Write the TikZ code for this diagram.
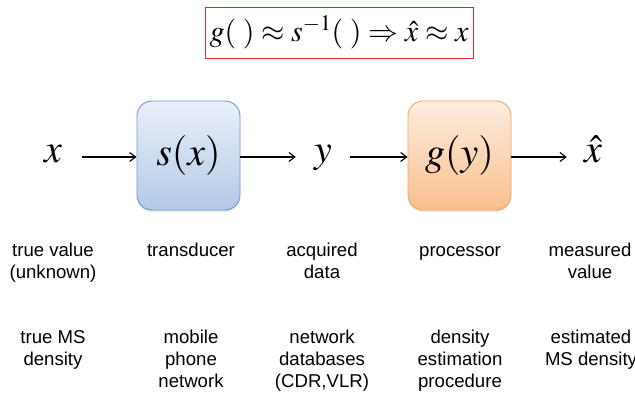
\documentclass[tikz,border=0pt]{standalone}
\usepackage{mathptmx}
\usepackage{fontspec}
\setmainfont{Liberation Sans}
\usetikzlibrary{arrows.meta,shadows}

\definecolor{blueTop}{HTML}{EAF0F9}
\definecolor{blueBot}{HTML}{B3C9E7}
\definecolor{blueEdge}{HTML}{7096C6}
\definecolor{orgTop}{HTML}{FDEDE0}
\definecolor{orgBot}{HTML}{F9BF8C}
\definecolor{orgEdge}{HTML}{F2A35E}
\definecolor{eqRed}{HTML}{E8262E}

\tikzset{
  blockbox/.style={rounded corners=15pt, minimum width=103pt, minimum height=109pt,
    inner sep=0pt, line width=0.9pt,
    drop shadow={shadow xshift=0pt, shadow yshift=-2pt, opacity=0.2},
    font=\fontsize{40}{48}\selectfont},
  bluebox/.style={blockbox, draw=blueEdge, top color=blueTop, bottom color=blueBot},
  orangebox/.style={blockbox, draw=orgEdge, top color=orgTop, bottom color=orgBot},
  signal/.style={inner sep=0pt, text height=18pt, text depth=6pt,
    font=\fontsize{40}{48}\selectfont},
  flow/.style={-{Straight Barb[length=6pt,width=9pt,line width=1.1pt]}, line width=1.1pt},
  caption/.style={anchor=north, align=center, inner sep=0pt,
    font=\fontsize{18.6}{22}\selectfont},
}

\begin{document}
\begin{tikzpicture}[x=1pt,y=-1pt]
  \useasboundingbox (0,0) rectangle (635,393);

  % relation between estimator and inverse transducer
  \node (eq) [draw=eqRed, line width=0.9pt, minimum width=268pt, minimum height=51pt,
    inner sep=0pt, font=\fontsize{30}{36}\selectfont] at (339,32.5)
    {$g(\;)\approx s^{-1}(\;)\Rightarrow \hat{x}\approx x$};

  % measurement chain
  \node (xin)  [signal, minimum width=58pt] at (53,157)  {$x$};
  \node (s)    [bluebox]   at (188.5,155.5) {$s(x)$};
  \node (yout) [signal, minimum width=54pt] at (323,157) {$y$};
  \node (g)    [orangebox] at (459.5,155.5) {$g(y)$};
  \node (xest) [signal, minimum width=52pt] at (593,157) {$\hat{x}$};

  \draw[flow] (xin.east) -- (s.west |- xin.east);
  \draw[flow] (s.east |- yout.west) -- (yout.west);
  \draw[flow] (yout.east) -- (g.west |- yout.east);
  \draw[flow] (g.east |- xest.west) -- (xest.west);

  % generic roles
  \node (r1) [caption] at (53,241.3)  {\strut true value\\(unknown)};
  \node (r2) [caption] at (191,241.3) {\strut transducer};
  \node (r3) [caption] at (322,241.3) {\strut acquired\\data};
  \node (r4) [caption] at (460,241.3) {\strut processor};
  \node (r5) [caption] at (590,241.3) {\strut measured\\value};

  % mobile network interpretation
  \node (m1) [caption] at (53,328)  {\strut true MS\\density};
  \node (m2) [caption] at (191,328) {\strut mobile\\phone\\network};
  \node (m3) [caption] at (322,328) {\strut network\\databases\\(CDR,VLR)};
  \node (m4) [caption] at (460,328) {\strut density\\estimation\\procedure};
  \node (m5) [caption] at (591,328) {\strut estimated\\MS density};
\end{tikzpicture}
\end{document}
